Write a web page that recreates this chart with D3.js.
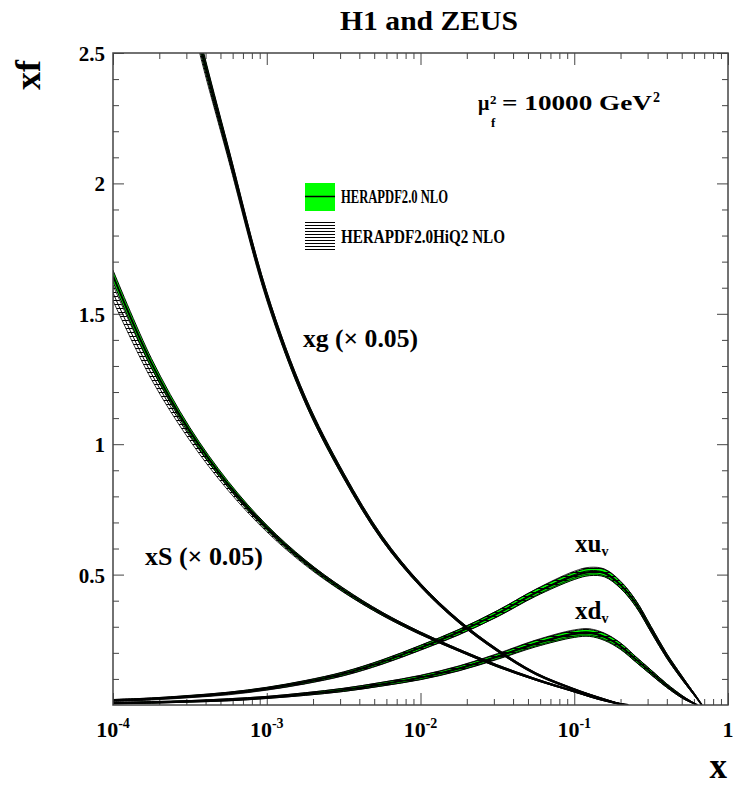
<!DOCTYPE html>
<html>
<head>
<meta charset="utf-8">
<script src="https://cdn.jsdelivr.net/npm/d3@7"></script>
<style>
  body { margin: 0; background: #fff; }
  text { font-family: "Liberation Serif", "Times New Roman", serif; font-weight: bold; fill: #000; }
  .frame { fill: none; stroke: #444; stroke-width: 1.5px; }
  .ticks .tick line { stroke: #444; stroke-width: 1px; }
  .ticks .domain { display: none; }
  .band-nlo { fill: #00ff00; stroke: #000; stroke-width: 1px; }
  .band-hiq2 { fill: url(#hatch); stroke: #000; stroke-width: 0.8px; }
  .central { fill: none; stroke: #000; stroke-width: 2px; }
  .central2 { fill: none; stroke: #000; stroke-width: 1px; }
</style>
</head>
<body>
<svg id="chart" width="738" height="785"></svg>
<script>
// ---- data ----
// valence grid (x)
var xVal = [1e-4, 1.78e-4, 3.16e-4, 5.62e-4, 1e-3, 1.78e-3, 3.16e-3, 5.62e-3, 0.01, 0.0178, 0.0316, 0.0562,
            0.1, 0.126, 0.158, 0.2, 0.251, 0.316, 0.398, 0.501, 0.562, 0.631, 0.676];
var xuvNLO  = [0.018, 0.024, 0.033, 0.045, 0.063, 0.088, 0.12, 0.165, 0.22, 0.28, 0.35, 0.43,
               0.495, 0.51, 0.505, 0.46, 0.39, 0.29, 0.19, 0.105, 0.065, 0.025, 0];
var xuvErr  = [0.003, 0.003, 0.004, 0.004, 0.005, 0.006, 0.007, 0.008, 0.009, 0.010, 0.012, 0.013,
               0.014, 0.014, 0.014, 0.013, 0.012, 0.011, 0.009, 0.007, 0.005, 0.003, 0];
var xuvHiQ2 = [0.017, 0.023, 0.032, 0.044, 0.062, 0.087, 0.119, 0.164, 0.219, 0.279, 0.35, 0.432,
               0.50, 0.515, 0.508, 0.462, 0.39, 0.29, 0.19, 0.105, 0.065, 0.025, 0];
var xuvErr2 = [0.004, 0.004, 0.004, 0.005, 0.005, 0.006, 0.007, 0.008, 0.009, 0.010, 0.011, 0.012,
               0.013, 0.013, 0.013, 0.013, 0.012, 0.011, 0.009, 0.007, 0.005, 0.003, 0];

var xdvNLO  = [0.007, 0.010, 0.014, 0.020, 0.029, 0.042, 0.058, 0.080, 0.105, 0.14, 0.185, 0.235,
               0.272, 0.276, 0.26, 0.225, 0.175, 0.125, 0.075, 0.032, 0.015, 0];
var xdvErr  = [0.002, 0.003, 0.003, 0.004, 0.004, 0.005, 0.006, 0.007, 0.008, 0.009, 0.010, 0.012,
               0.013, 0.013, 0.013, 0.012, 0.010, 0.009, 0.007, 0.005, 0.003, 0];
var xdvHiQ2 = [0.007, 0.010, 0.014, 0.020, 0.029, 0.042, 0.058, 0.080, 0.106, 0.141, 0.187, 0.238,
               0.276, 0.28, 0.263, 0.227, 0.176, 0.125, 0.075, 0.032, 0.015, 0];
var xdvErr2 = [0.003, 0.003, 0.003, 0.004, 0.004, 0.005, 0.006, 0.007, 0.008, 0.009, 0.010, 0.011,
               0.012, 0.012, 0.012, 0.011, 0.010, 0.009, 0.007, 0.005, 0.003, 0];

// sea (x 0.05)
var xSea     = [1e-4, 1.78e-4, 3.16e-4, 5.62e-4, 1e-3, 1.78e-3, 3.16e-3, 5.62e-3, 0.01, 0.0178, 0.0316, 0.0562,
                0.1, 0.141, 0.2, 0.224];
var xsNLO    = [1.645, 1.31, 1.05, 0.845, 0.68, 0.548, 0.44, 0.35, 0.275, 0.21, 0.15, 0.098, 0.052, 0.025, 0.004, 0];
var xsErr    = [0.022, 0.018, 0.014, 0.012, 0.010, 0.008, 0.007, 0.006, 0.005, 0.004, 0.004, 0.003, 0.002, 0.002, 0.001, 0];
var xsHiQ2   = [1.58, 1.27, 1.03, 0.835, 0.675, 0.545, 0.44, 0.35, 0.275, 0.21, 0.15, 0.098, 0.052, 0.025, 0.004, 0];
var xsErr2   = [0.03, 0.022, 0.016, 0.013, 0.011, 0.009, 0.008, 0.006, 0.005, 0.004, 0.004, 0.003, 0.002, 0.002, 0.001, 0];

// gluon (x 0.05)
var xGlu     = [2.51e-4, 3.16e-4, 3.8e-4, 5.62e-4, 1e-3, 1.78e-3, 3.16e-3, 5.62e-3, 0.01, 0.0178, 0.0316, 0.0562,
                0.1, 0.141, 0.2, 0.224];
var xgNLO    = [2.95, 2.70, 2.5, 2.12, 1.57, 1.17, 0.88, 0.64, 0.46, 0.32, 0.21, 0.12, 0.06, 0.03, 0.004, 0];
var xgErr    = [0.03, 0.027, 0.025, 0.02, 0.015, 0.012, 0.010, 0.008, 0.006, 0.005, 0.004, 0.003, 0.002, 0.002, 0.001, 0];
var xgHiQ2   = [2.93, 2.69, 2.49, 2.115, 1.568, 1.17, 0.88, 0.64, 0.46, 0.32, 0.21, 0.12, 0.06, 0.03, 0.004, 0];
var xgErr2   = [0.035, 0.03, 0.028, 0.022, 0.017, 0.013, 0.011, 0.009, 0.007, 0.006, 0.005, 0.004, 0.003, 0.002, 0.001, 0];

// ticks
var xMajor = [1e-4, 1e-3, 1e-2, 1e-1, 1];
var xExp   = ["-4", "-3", "-2", "-1", ""];
var yMajor = [0.5, 1, 1.5, 2, 2.5];
var yLabels = ["0.5", "1", "1.5", "2", "2.5"];

// ---- chart ----
var svg = d3.select("#chart");
var L = 113, R = 728, T = 53, B = 705;
var x = d3.scaleLog().domain([1e-4, 1]).range([L, R]);
var y = d3.scaleLinear().domain([0, 2.5]).range([B, T]);

var defs = svg.append("defs");
var pat = defs.append("pattern").attr("id", "hatch")
  .attr("patternUnits", "userSpaceOnUse").attr("width", 6).attr("height", 4);
pat.append("line").attr("x1", 0).attr("x2", 6).attr("y1", 0.5).attr("y2", 0.5)
  .attr("stroke", "#000").attr("stroke-width", 1);
var patL = defs.append("pattern").attr("id", "hatchLeg")
  .attr("patternUnits", "userSpaceOnUse").attr("width", 6).attr("height", 3);
patL.append("line").attr("x1", 0).attr("x2", 6).attr("y1", 0.5).attr("y2", 0.5)
  .attr("stroke", "#000").attr("stroke-width", 1);
defs.append("clipPath").attr("id", "plotclip").append("rect")
  .attr("x", L).attr("y", T).attr("width", R - L).attr("height", B - T);

// minor ticks
var xMinor = [];
xMajor.slice(0, 4).forEach(function(d) { for (var k = 2; k <= 9; k++) xMinor.push(d * k); });
var yMinor = d3.range(1, 25).map(function(i) { return i / 10; })
  .filter(function(v) { return Math.abs(v * 2 - Math.round(v * 2)) > 1e-6; });

function axes(gen, scale, pos, vals, size) {
  svg.append("g").attr("class", "ticks").attr("transform", pos)
    .call(gen(scale).tickValues(vals).tickSize(-size).tickSizeOuter(0).tickFormat(""));
}
axes(d3.axisBottom, x, "translate(0," + B + ")", xMajor, 12);
axes(d3.axisBottom, x, "translate(0," + B + ")", xMinor, 6);
axes(d3.axisTop, x, "translate(0," + T + ")", xMajor, 12);
axes(d3.axisTop, x, "translate(0," + T + ")", xMinor, 6);
axes(d3.axisLeft, y, "translate(" + L + ",0)", yMajor, 11);
axes(d3.axisLeft, y, "translate(" + L + ",0)", yMinor, 6);
axes(d3.axisRight, y, "translate(" + R + ",0)", yMajor, 11);
axes(d3.axisRight, y, "translate(" + R + ",0)", yMinor, 6);

// curves
function zip(xs, c, e) {
  return c.map(function(v, i) { return {x: xs[i], c: v, lo: Math.max(0, v - e[i]), hi: v + e[i]}; });
}
var pdfs = [
  {nlo: zip(xVal, xuvNLO, xuvErr), hq: zip(xVal, xuvHiQ2, xuvErr2)},
  {nlo: zip(xVal, xdvNLO, xdvErr), hq: zip(xVal, xdvHiQ2, xdvErr2)},
  {nlo: zip(xSea, xsNLO, xsErr), hq: zip(xSea, xsHiQ2, xsErr2)},
  {nlo: zip(xGlu, xgNLO, xgErr), hq: zip(xGlu, xgHiQ2, xgErr2)}
];
var curve = d3.curveCatmullRom.alpha(0.5);
var area = d3.area().curve(curve)
  .x(function(d) { return x(d.x); })
  .y0(function(d) { return y(d.lo); })
  .y1(function(d) { return y(d.hi); });
var line = d3.line().curve(curve)
  .x(function(d) { return x(d.x); })
  .y(function(d) { return y(d.c); });

var plot = svg.append("g").attr("clip-path", "url(#plotclip)");
pdfs.forEach(function(p) {
  plot.append("path").attr("class", "band-nlo").attr("d", area(p.nlo));
  plot.append("path").attr("class", "band-hiq2").attr("d", area(p.hq));
  plot.append("path").attr("class", "central2").attr("d", line(p.hq));
  plot.append("path").attr("class", "central").attr("d", line(p.nlo));
});

svg.append("rect").attr("class", "frame")
  .attr("x", L).attr("y", T).attr("width", R - L).attr("height", B - T);

// tick labels
svg.selectAll(".ylab").data(yMajor).enter().append("text")
  .attr("x", 105).attr("y", function(d) { return y(d) + 8; })
  .attr("text-anchor", "end").style("font-size", "21px")
  .text(function(d, i) { return yLabels[i]; });

var xl = svg.selectAll(".xlab").data(xMajor).enter().append("text")
  .attr("x", function(d) { return x(d); }).attr("y", 737)
  .attr("text-anchor", "middle").style("font-size", "22px");
xl.append("tspan").text(function(d, i) { return xExp[i] ? "10" : "1"; });
xl.append("tspan").attr("dy", -9).style("font-size", "14px")
  .text(function(d, i) { return xExp[i]; });

// titles
svg.append("text").attr("x", 429).attr("y", 30).attr("text-anchor", "middle")
  .style("font-size", "28px").attr("textLength", 178).attr("lengthAdjust", "spacingAndGlyphs")
  .text("H1 and ZEUS");
svg.append("text").attr("transform", "translate(40,60) rotate(-90)")
  .attr("text-anchor", "end").style("font-size", "36px").text("xf");
svg.append("text").attr("x", 727).attr("y", 778).attr("text-anchor", "end")
  .style("font-size", "35px").text("x");

// scale label
svg.append("text").attr("x", 478).attr("y", 110).style("font-size", "20px").text("\u03bc");
svg.append("text").attr("x", 490).attr("y", 104).style("font-size", "13px").text("2");
svg.append("text").attr("x", 491).attr("y", 127).style("font-size", "13px").text("f");
svg.append("text").attr("x", 502).attr("y", 110).style("font-size", "22px")
  .attr("textLength", 150).attr("lengthAdjust", "spacingAndGlyphs").text("= 10000 GeV");
svg.append("text").attr("x", 653).attr("y", 102).style("font-size", "14px").text("2");

// legend
svg.append("rect").attr("x", 305).attr("y", 183).attr("width", 30).attr("height", 28)
  .attr("fill", "#00ff00");
svg.append("line").attr("x1", 305).attr("x2", 335).attr("y1", 196.5).attr("y2", 196.5)
  .attr("stroke", "#000").attr("stroke-width", 1.5);
svg.append("rect").attr("x", 305).attr("y", 222).attr("width", 30).attr("height", 29)
  .attr("fill", "url(#hatchLeg)");
svg.append("text").attr("x", 341).attr("y", 203).style("font-size", "18px")
  .attr("textLength", 107).attr("lengthAdjust", "spacingAndGlyphs").text("HERAPDF2.0 NLO");
svg.append("text").attr("x", 341).attr("y", 243).style("font-size", "18px")
  .attr("textLength", 164).attr("lengthAdjust", "spacingAndGlyphs").text("HERAPDF2.0HiQ2 NLO");

// curve labels
svg.append("text").attr("x", 303).attr("y", 347).style("font-size", "25px")
  .attr("textLength", 115).attr("lengthAdjust", "spacingAndGlyphs").text("xg (\u00d7 0.05)");
svg.append("text").attr("x", 145).attr("y", 565).style("font-size", "25px")
  .attr("textLength", 118).attr("lengthAdjust", "spacingAndGlyphs").text("xS (\u00d7 0.05)");
var lu = svg.append("text").attr("x", 575).attr("y", 552).style("font-size", "25px");
lu.append("tspan").text("xu");
lu.append("tspan").attr("dy", 4).style("font-size", "14px").text("v");
var ld = svg.append("text").attr("x", 575).attr("y", 619).style("font-size", "25px");
ld.append("tspan").text("xd");
ld.append("tspan").attr("dy", 4).style("font-size", "14px").text("v");
</script>
</body>
</html>
